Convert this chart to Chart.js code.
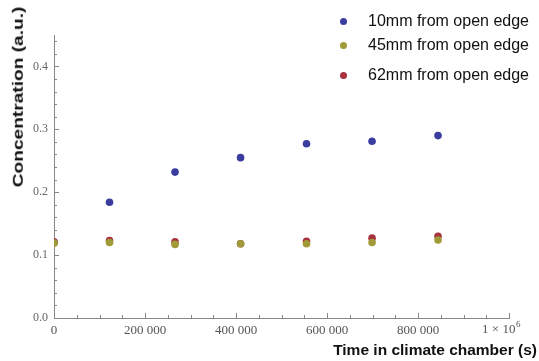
<!DOCTYPE html>
<html>
<head>
<meta charset="utf-8">
<script src="https://cdn.jsdelivr.net/npm/chart.js@4/dist/chart.umd.min.js"></script>
<style>
  html, body { margin: 0; padding: 0; background: #fff; }
  #wrap { position: relative; width: 539px; height: 361px; }
  .legend-row { position: absolute; left: 338px; font: 16px "Liberation Sans", Arial, sans-serif; color: #111; white-space: nowrap; line-height: 18px; }
  .legend-dot { position: absolute; left: 2px; top: 6px; width: 7px; height: 7px; border-radius: 50%; }
  .legend-row span { position: absolute; left: 30px; top: 0; }
  #ytitle { position: absolute; left: 18px; top: 97px; transform-origin: center; white-space: nowrap;
            font: bold 15px "Liberation Sans", Arial, sans-serif; color: #111; line-height: 16px; }
  #xtitle { position: absolute; right: 2px; top: 341px; font: bold 15.5px "Liberation Sans", Arial, sans-serif; color: #111; white-space: nowrap; line-height: 18px; }
</style>
</head>
<body>
<div id="wrap">
  <canvas id="chart"></canvas>
  <div id="legend"></div>
  <div id="ytitle">Concentration (a.u.)</div>
  <div id="xtitle">Time in climate chamber (s)</div>
</div>
<script>
// data
const seriesNames = ['10mm from open edge', '45mm from open edge', '62mm from open edge'];
const seriesColors = ['#3a3d9e', '#a09a38', '#a8323e'];
const times = [0, 122000, 266000, 410000, 555000, 699000, 844000];
const conc10 = [0.120, 0.184, 0.232, 0.255, 0.277, 0.281, 0.290];
const conc45 = [0.119, 0.120, 0.117, 0.118, 0.118, 0.120, 0.124];
const conc62 = [0.121, 0.123, 0.121, 0.118, 0.122, 0.127, 0.130];
const xTicks = [0, 200000, 400000, 600000, 800000, 1000000];
const yTicks = [0.0, 0.1, 0.2, 0.3, 0.4];

const toPoints = (ys) => times.map((t, i) => ({ x: t, y: ys[i] }));
const allSeries = [conc10, conc45, conc62];
const drawOrder = [2, 0, 1]; // olive on top, then red, blue underneath

const tickFont = '"Liberation Serif", "Times New Roman", serif';

const fmtX = (v) => {
    if (v === 1000000) return ''; // drawn by plugin with superscript
    return String(v).replace(/\B(?=(\d{3})+(?!\d))/g, ' ');
};

// inward tick marks (Mathematica style) + the 1 x 10^6 label
const axisExtras = {
    id: 'axisExtras',
    beforeDatasetsDraw(chart) {
        const { ctx, scales: { x, y }, chartArea } = chart;
        ctx.save();
        ctx.strokeStyle = '#888';
        ctx.lineWidth = 1;
        for (let v = 0; v <= 1000000; v += 50000) {
            const px = Math.round(x.getPixelForValue(v)) + 0.5;
            const len = v % 200000 === 0 ? 5 : 3;
            ctx.beginPath();
            ctx.moveTo(px, chartArea.bottom);
            ctx.lineTo(px, chartArea.bottom - len);
            ctx.stroke();
        }
        for (let i = 0; i <= 22; i++) {
            const v = i * 0.02;
            const py = Math.round(y.getPixelForValue(v)) + 0.5;
            const len = i % 5 === 0 ? 5 : 3;
            ctx.beginPath();
            ctx.moveTo(chartArea.left, py);
            ctx.lineTo(chartArea.left + len, py);
            ctx.stroke();
        }

        // 1 x 10^6, sits a little left of the axis end like the original
        const px = x.getPixelForValue(1000000) - 9;
        ctx.fillStyle = '#555';
        ctx.textBaseline = 'middle';
        ctx.font = `13px ${tickFont}`;
        const base = '1 \u00d7 10';
        const w = ctx.measureText(base).width;
        ctx.font = `9px ${tickFont}`;
        const ws = ctx.measureText('6').width;
        const left = px - (w + ws) / 2 + 1;
        ctx.font = `13px ${tickFont}`;
        ctx.textAlign = 'left';
        ctx.fillText(base, left, chartArea.bottom + 12);
        ctx.font = `9px ${tickFont}`;
        ctx.fillText('6', left + w + 0.5, chartArea.bottom + 7);
        ctx.restore();
    }
};

new Chart(document.getElementById('chart'), {
    type: 'scatter',
    data: {
        datasets: allSeries.map((ys, i) => ({
            label: seriesNames[i],
            data: toPoints(ys),
            backgroundColor: seriesColors[i],
            borderColor: seriesColors[i],
            borderWidth: 0,
            pointRadius: 3.8,
            order: drawOrder[i],
        }))
    },
    options: {
        responsive: true,
        maintainAspectRatio: false,
        animation: false,
        layout: { padding: { top: 35, right: 30, left: 0, bottom: 0 } },
        plugins: { legend: { display: false }, tooltip: { enabled: false } },
        scales: {
            x: {
                type: 'linear',
                min: 0,
                max: 1000000,
                afterFit: (s) => { s.height = 43; },
                afterBuildTicks: (s) => { s.ticks = xTicks.map(v => ({ value: v })); },
                grid: { display: false, drawTicks: false },
                border: { display: true, color: '#888', width: 1 },
                ticks: {
                    padding: 5,
                    maxRotation: 0,
                    autoSkip: false,
                    color: '#555',
                    font: { family: tickFont, size: 13 },
                    callback: (v) => fmtX(v),
                }
            },
            y: {
                min: 0,
                max: 0.45,
                afterFit: (s) => { s.width = 54; },
                afterBuildTicks: (s) => { s.ticks = yTicks.map(v => ({ value: v })); },
                grid: { display: false, drawTicks: false },
                border: { display: true, color: '#888', width: 1 },
                ticks: {
                    padding: 6,
                    color: '#666',
                    font: { family: tickFont, size: 12 },
                    callback: (v) => v.toFixed(1),
                }
            }
        }
    },
    plugins: [axisExtras]
});

// legend with the uneven row spacing of the original
const legendTops = [12, 36, 66];
const legendEl = document.getElementById('legend');
seriesNames.forEach((name, i) => {
    legendEl.innerHTML += `
    <div class="legend-row" style="top:${legendTops[i]}px">
        <div class="legend-dot" style="background:${seriesColors[i]}"></div>
        <span>${name}</span>
    </div>`;
});

// y title: rotated and stretched to the length it has in the original
const yt = document.getElementById('ytitle');
const ytw = yt.offsetWidth;
const yth = yt.offsetHeight;
yt.style.left = (18 - ytw / 2) + 'px';
yt.style.top = (97 - yth / 2) + 'px';
yt.style.transform = `rotate(-90deg) scaleX(${181 / ytw})`;
</script>
</body>
</html>
